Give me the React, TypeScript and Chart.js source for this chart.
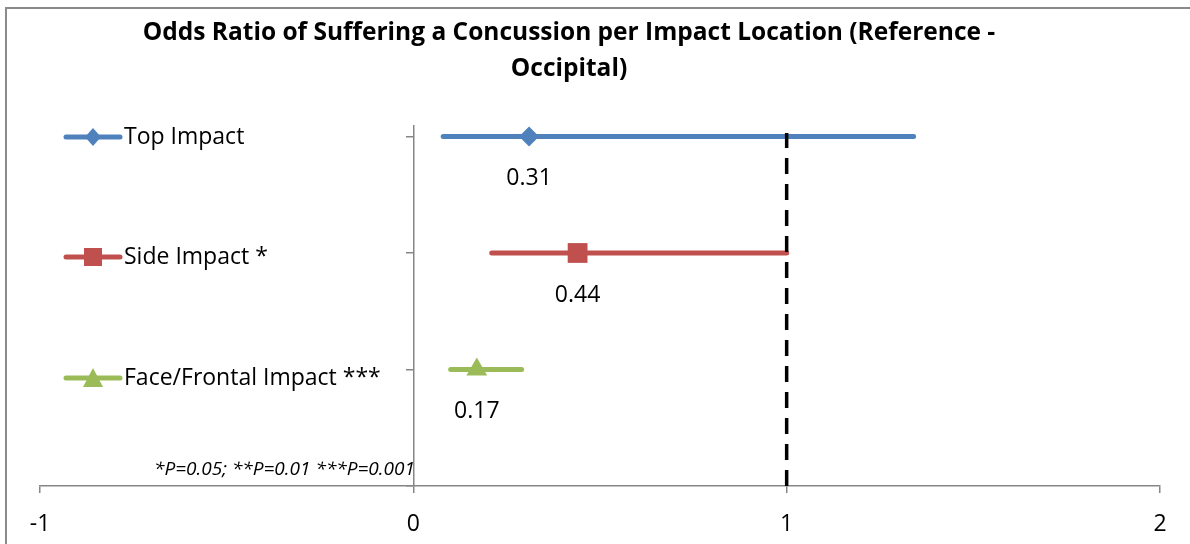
import React, { useEffect, useRef } from "react";
import { Chart, registerables } from "chart.js";

Chart.register(...registerables);

const TITLE_LINES = [
  "Odds Ratio of Suffering a Concussion per Impact Location (Reference -",
  "Occipital)",
];
const SERIES_NAMES = ["Top Impact", "Side Impact *", "Face/Frontal Impact ***"];
const ODDS_RATIOS = [0.31, 0.44, 0.17];
const CI_LOWER = [0.08, 0.21, 0.1];
const CI_UPPER = [1.34, 1.0, 0.29];
const ROW_POSITIONS = [3, 2, 1];
const X_TICKS = [-1, 0, 1, 2];
const REFERENCE_X = 1;
const REFERENCE_Y_RANGE = [0, 3.03];
const FOOTNOTE = "*P=0.05; **P=0.01 ***P=0.001";

const COLORS = ["#4F81BD", "#C0504D", "#9BBB59"];
const POINT_STYLES = ["rectRot", "rect", "triangle"];
const POINT_RADII = [10, 14, 12];
const FONT = "'Open Sans', Lato, sans-serif";
const AXIS_GRAY = "#868686";

function drawMarker(ctx: CanvasRenderingContext2D, style: string, x: number, y: number, color: string) {
  ctx.save();
  ctx.fillStyle = color;
  ctx.beginPath();
  if (style === "rectRot") {
    ctx.moveTo(x, y - 9);
    ctx.lineTo(x + 8, y);
    ctx.lineTo(x, y + 9);
    ctx.lineTo(x - 8, y);
  } else if (style === "rect") {
    ctx.rect(x - 9, y - 9, 18, 18);
  } else {
    ctx.moveTo(x, y - 10);
    ctx.lineTo(x + 10, y + 9);
    ctx.lineTo(x - 10, y + 9);
  }
  ctx.closePath();
  ctx.fill();
  ctx.restore();
}

const decorPlugin = {
  id: "decor",
  beforeDraw(chart: any) {
    const ctx = chart.ctx as CanvasRenderingContext2D;
    ctx.save();
    ctx.strokeStyle = "#8a8a8a";
    ctx.lineWidth = 2;
    ctx.beginPath();
    ctx.moveTo(1190, 8);
    ctx.lineTo(6, 8);
    ctx.lineTo(6, 544);
    ctx.stroke();
    ctx.restore();
  },
  afterDraw(chart: any) {
    const ctx = chart.ctx as CanvasRenderingContext2D;
    ctx.save();
    // title
    ctx.fillStyle = "#000";
    ctx.textAlign = "center";
    ctx.textBaseline = "middle";
    ctx.font = `bold 24.5px ${FONT}`;
    ctx.fillText(TITLE_LINES[0], 569, 33);
    ctx.fillText(TITLE_LINES[1], 569, 69);

    // legend
    const legendY = [137, 257, 378];
    SERIES_NAMES.forEach((name, i) => {
      const y = legendY[i];
      ctx.strokeStyle = COLORS[i];
      ctx.lineWidth = 5;
      ctx.lineCap = "round";
      ctx.beginPath();
      ctx.moveTo(66, y);
      ctx.lineTo(120, y);
      ctx.stroke();
      drawMarker(ctx, POINT_STYLES[i], 93, y, COLORS[i]);
      ctx.fillStyle = "#000";
      ctx.textAlign = "left";
      ctx.textBaseline = "middle";
      ctx.font = `23px ${FONT}`;
      ctx.fillText(name, 124, y);
    });

    // data labels
    ctx.font = `23px ${FONT}`;
    ctx.textAlign = "center";
    ctx.textBaseline = "middle";
    ctx.fillStyle = "#000";
    ODDS_RATIOS.forEach((v, i) => {
      const meta = chart.getDatasetMeta(i + 1);
      const pt = meta.data[1];
      if (pt) ctx.fillText(v.toFixed(2), pt.x, pt.y + 42);
    });

    // footnote
    ctx.font = `italic 19px ${FONT}`;
    ctx.textAlign = "right";
    ctx.fillText(FOOTNOTE, 415, 470);
    ctx.restore();
  },
};

export default function App() {
  const canvasRef = useRef<HTMLCanvasElement | null>(null);

  useEffect(() => {
    const canvas = canvasRef.current;
    if (!canvas) return;

    const datasets: any[] = [
      {
        label: "Reference",
        data: [
          { x: REFERENCE_X, y: REFERENCE_Y_RANGE[0] },
          { x: REFERENCE_X, y: REFERENCE_Y_RANGE[1] },
        ],
        borderColor: "#000",
        borderWidth: 3.5,
        borderDash: [16, 10],
        pointRadius: 0,
        showLine: true,
        order: 0,
      },
    ];
    SERIES_NAMES.forEach((name, i) => {
      datasets.push({
        label: name,
        data: [
          { x: CI_LOWER[i], y: ROW_POSITIONS[i] },
          { x: ODDS_RATIOS[i], y: ROW_POSITIONS[i] },
          { x: CI_UPPER[i], y: ROW_POSITIONS[i] },
        ],
        borderColor: COLORS[i],
        backgroundColor: COLORS[i],
        borderWidth: 5,
        borderCapStyle: "round",
        showLine: true,
        pointStyle: POINT_STYLES[i],
        pointRadius: [0, POINT_RADII[i], 0],
        pointBorderWidth: 0,
        pointHoverRadius: 0,
        order: 1,
      });
    });

    const chart = new Chart(canvas, {
      type: "scatter",
      data: { datasets },
      options: {
        responsive: false,
        animation: false,
        events: [],
        layout: { padding: { left: 40, right: 30, top: 126, bottom: 0 } },
        plugins: { legend: { display: false }, tooltip: { enabled: false }, title: { display: false } },
        scales: {
          x: {
            type: "linear",
            position: "bottom",
            min: X_TICKS[0],
            max: X_TICKS[X_TICKS.length - 1],
            afterBuildTicks: (scale: any) => {
              scale.ticks = X_TICKS.map((v) => ({ value: v }));
            },
            afterFit: (scale: any) => {
              scale.height = 58;
            },
            ticks: {
              color: "#000",
              font: { family: FONT, size: 23 },
              padding: 18,
              callback: (v: any) => String(v),
            },
            grid: {
              drawOnChartArea: false,
              drawTicks: true,
              tickLength: 7,
              color: AXIS_GRAY,
              lineWidth: 1.5,
            },
            border: { color: AXIS_GRAY, width: 1.5 },
          },
          y: {
            type: "linear",
            position: { x: 0 },
            min: 0,
            max: 3.09,
            ticks: { display: false, stepSize: 1, includeBounds: false },
            grid: {
              drawOnChartArea: false,
              drawTicks: true,
              tickLength: 7,
              color: AXIS_GRAY,
              lineWidth: 1.5,
            },
            border: { color: AXIS_GRAY, width: 1.5 },
          },
        },
      },
      plugins: [decorPlugin],
    } as any);

    return () => chart.destroy();
  }, []);

  return (
    <div style={{ position: "fixed", left: 0, top: 0, width: 1190, height: 544, background: "#fff" }}>
      <canvas ref={canvasRef} width={1190} height={544} />
    </div>
  );
}
